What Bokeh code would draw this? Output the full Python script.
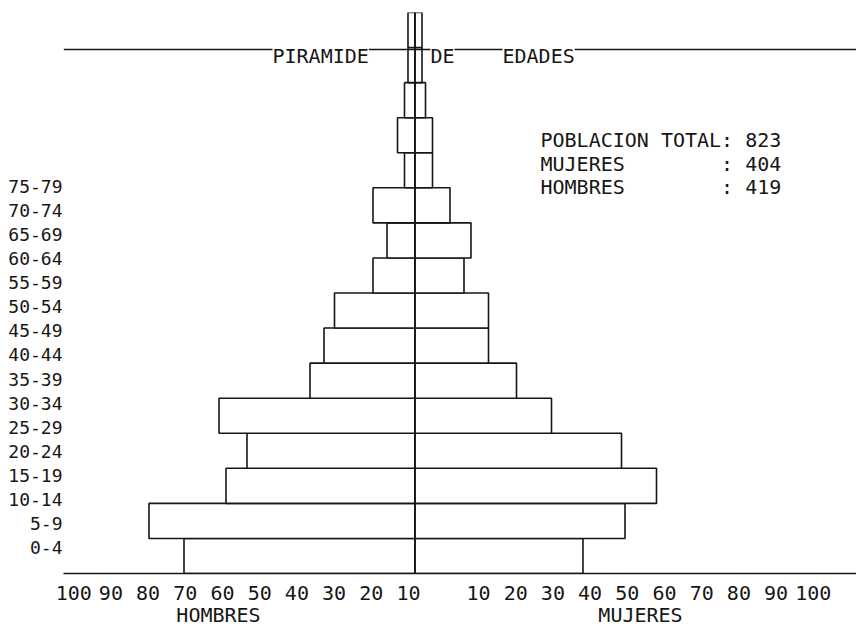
from bokeh.plotting import figure
from bokeh.models import Range1d, LinearAxis, FixedTicker, Span, Label, Arrow, ColumnDataSource
from bokeh.embed import file_html
from bokeh.resources import INLINE

# ---------------- data ----------------
AGE_LABELS = ["0-4", "5-9", "10-14", "15-19", "20-24", "25-29", "30-34", "35-39",
              "40-44", "45-49", "50-54", "55-59", "60-64", "65-69", "70-74", "75-79"]
HOMBRES = [66, 76, 54, 48, 56, 30, 26, 23, 12, 8, 12, 3, 5, 3, 2, 2]
MUJERES = [48, 60, 69, 59, 39, 29, 21, 21, 14, 16, 10, 5, 5, 3, 2, 2]
TICK_VALUES = [10, 20, 30, 40, 50, 60, 70, 80, 90, 100]
SIDE_NAMES = ["HOMBRES", "MUJERES"]
TITLE_WORDS = ["PIRAMIDE", "DE", "EDADES"]
TOTAL = 823
TOTAL_MUJERES = 404
TOTAL_HOMBRES = 419

# ---------------- layout constants ----------------
FONT = "DejaVu Sans Mono"
INK = "#161616"
W, H = 856, 630
PX_PER_UNIT = 3.5          # horizontal scale (pixels per person)
CENTER_PX = 414.5          # centre line, canvas px
FRAME_LEFT = 63
FRAME_TOP = 12
FRAME_BOTTOM = 57
frame_h = H - FRAME_TOP - FRAME_BOTTOM
x0 = -(CENTER_PX - FRAME_LEFT) / PX_PER_UNIT
x1 = (W - CENTER_PX) / PX_PER_UNIT
n = len(AGE_LABELS)
unit_h = frame_h / n
BASE_PY = H - FRAME_BOTTOM


def px2x(px):   # canvas px -> data x
    return (px - CENTER_PX) / PX_PER_UNIT


def py2y(py):   # canvas px -> data y
    return (BASE_PY - py) / unit_h


p = figure(width=W, height=H, output_backend="svg", toolbar_location=None,
           x_range=Range1d(x0, x1), y_range=Range1d(0, n),
           x_axis_location=None, y_axis_location=None,
           min_border_left=FRAME_LEFT, min_border_right=0,
           min_border_top=FRAME_TOP, min_border_bottom=FRAME_BOTTOM)
p.outline_line_color = None
p.background_fill_color = "white"
p.border_fill_color = "white"
p.grid.visible = False

idx = list(range(n))
src = ColumnDataSource(dict(
    bottom=idx, top=[i + 1 for i in idx],
    men_left=[-v for v in HOMBRES], zero=[0] * n, women_right=MUJERES,
    age=AGE_LABELS))

p.quad(left="men_left", right="zero", bottom="bottom", top="top", source=src,
       fill_color="white", line_color=INK, line_width=1.6)
p.quad(left="zero", right="women_right", bottom="bottom", top="top", source=src,
       fill_color="white", line_color=INK, line_width=1.6)

p.add_layout(Span(location=0, dimension="height", line_color=INK, line_width=1.6))

# ---------------- bottom axis (typewritten scale) ----------------
LABEL_STEP_PX = 37.2
left_ticks = [round(-(6.5 + (v - 10) * LABEL_STEP_PX / 10) / PX_PER_UNIT, 4) for v in TICK_VALUES]
right_ticks = [round((63.5 + (v - 10) * LABEL_STEP_PX / 10) / PX_PER_UNIT, 4) for v in TICK_VALUES]
overrides = {}
for t, v in zip(left_ticks, TICK_VALUES):
    overrides[t] = str(v)
for t, v in zip(right_ticks, TICK_VALUES):
    overrides[t] = str(v)

xaxis = LinearAxis(ticker=FixedTicker(ticks=left_ticks + right_ticks),
                   major_label_overrides=overrides)
xaxis.axis_line_color = INK
xaxis.axis_line_width = 1.6
xaxis.major_tick_line_color = None
xaxis.minor_tick_line_color = None
xaxis.major_tick_out = 0
xaxis.major_tick_in = 0
xaxis.major_label_standoff = 12
xaxis.major_label_text_font = FONT
xaxis.major_label_text_font_size = "20px"
xaxis.major_label_text_color = INK
p.add_layout(xaxis, "below")

# second row below: the side names
name_ticks = [round(px2x(218), 4), round(px2x(640), 4)]
naxis = LinearAxis(ticker=FixedTicker(ticks=name_ticks),
                   major_label_overrides={t: s for t, s in zip(name_ticks, SIDE_NAMES)})
naxis.axis_line_color = None
naxis.major_tick_line_color = None
naxis.minor_tick_line_color = None
naxis.major_tick_out = 0
naxis.major_tick_in = 0
naxis.major_label_standoff = 0
naxis.major_label_text_font = FONT
naxis.major_label_text_font_size = "20px"
naxis.major_label_text_color = INK
p.add_layout(naxis, "below")

# ---------------- left axis (age groups, typewritten spacing) ----------------
AGE_ROW_PX = 24.07
AGE0_PY = 547
p.extra_y_ranges = {"ages": Range1d((AGE0_PY - BASE_PY) / AGE_ROW_PX,
                                    (AGE0_PY - FRAME_TOP) / AGE_ROW_PX)}
yaxis = LinearAxis(y_range_name="ages", ticker=FixedTicker(ticks=idx),
                   major_label_overrides={i: lab for i, lab in enumerate(AGE_LABELS)})
yaxis.axis_line_color = None
yaxis.major_tick_line_color = None
yaxis.minor_tick_line_color = None
yaxis.major_tick_out = 0
yaxis.major_tick_in = 0
yaxis.major_label_standoff = 1
yaxis.major_label_text_font = FONT
yaxis.major_label_text_font_size = "18px"
yaxis.major_label_text_color = INK
p.add_layout(yaxis, "left")

# ---------------- title line and words ----------------
title_y = py2y(49)
p.add_layout(Arrow(end=None, x_start=x0, y_start=title_y, x_end=x1, y_end=title_y,
                   line_color=INK, line_width=1.3))
for word, left_px in zip(TITLE_WORDS, [272, 430, 502]):
    p.add_layout(Label(x=px2x(left_px), y=py2y(55.5), text=word, text_font=FONT,
                       text_font_size="20px", text_color=INK, text_align="left",
                       text_baseline="middle", background_fill_color="white"))

# ---------------- totals block ----------------
colon_px = 540 + 15 * 12.04
rows = [("POBLACION TOTAL: %d" % TOTAL, None, 139),
        ("MUJERES", ": %d" % TOTAL_MUJERES, 163),
        ("HOMBRES", ": %d" % TOTAL_HOMBRES, 186)]
for left_text, right_text, py in rows:
    p.add_layout(Label(x=px2x(540), y=py2y(py), text=left_text, text_font=FONT,
                       text_font_size="20px", text_color=INK, text_align="left",
                       text_baseline="middle"))
    if right_text:
        p.add_layout(Label(x=px2x(colon_px), y=py2y(py), text=right_text, text_font=FONT,
                           text_font_size="20px", text_color=INK, text_align="left",
                           text_baseline="middle"))

open("out.html", "w").write(file_html(p, INLINE))
